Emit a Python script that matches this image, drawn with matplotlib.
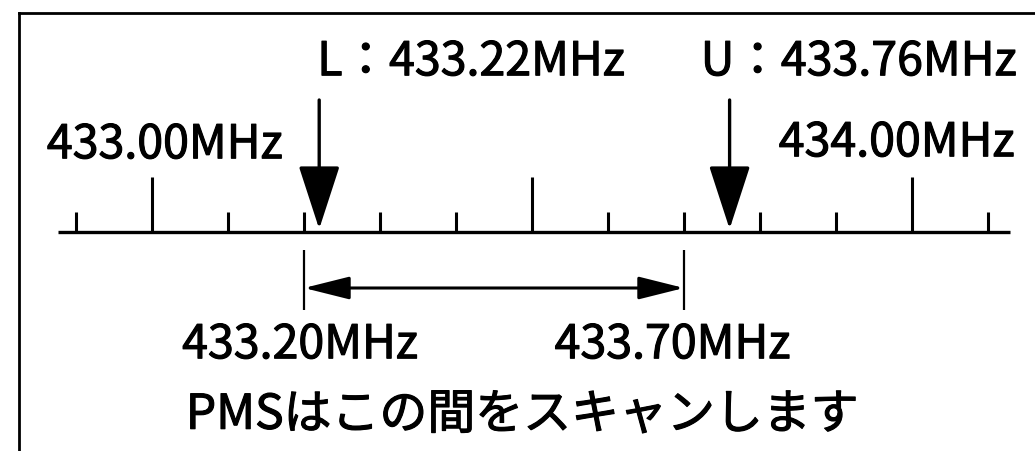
import matplotlib
matplotlib.use("Agg")
import numpy as np
import matplotlib.pyplot as plt
from matplotlib.lines import Line2D
import matplotlib.patheffects as pe

plt.rcParams['font.family'] = ['Noto Sans CJK JP', 'DejaVu Sans']

# frequency scale (MHz)
minor_ticks = [432.9, 433.1, 433.2, 433.3, 433.4, 433.6, 433.7, 433.8, 433.9, 434.1]
major_ticks = [433.0, 433.5, 434.0]
major_labels = ["433.00MHz", "434.00MHz"]
lower_edge = 433.22
upper_edge = 433.76
lower_label = "L：433.22MHz"
upper_label = "U：433.76MHz"
scan_range = [433.20, 433.70]
scan_labels = ["433.20MHz", "433.70MHz"]
caption = "PMSはこの間をスキャンします"

W, H = 1035, 451
fig = plt.figure(figsize=(W / 100, H / 100), dpi=100)
ax = fig.add_axes([0, 0, 1, 1])
# 0.1 MHz = 76 px, 433.00 sits at x=152
ax.set_xlim(433 - 152 / 760, 433 + (W - 152) / 760)
ax.set_ylim(H, 0)
ax.axis('off')

def px(x):
    return 433 + (x - 152) / 760

# slightly heavier than regular, like the printed gothic
thick = [pe.withStroke(linewidth=0.8, foreground='black')]

# frame (top + left only)
fig.add_artist(Line2D([19 / W, 1], [1 - 13 / H, 1 - 13 / H], color='black', lw=2))
fig.add_artist(Line2D([19 / W, 19 / W], [0, 1 - 13 / H], color='black', lw=2))

# baseline
base_y = 232
ax.plot([px(58), px(1010)], [base_y, base_y], color='black', lw=2.4, solid_capstyle='butt')
ax.vlines(minor_ticks, base_y - 20, base_y, color='black', lw=2.2)
ax.vlines(major_ticks, base_y - 55, base_y, color='black', lw=2.2)

fs = 33.5
kw = dict(ha='center', va='center', fontsize=fs, path_effects=thick)
ax.text(433.0 + 0.017, 145, major_labels[0], **kw)
ax.text(434.0 - 0.02, 143, major_labels[1], **kw)
ax.text(433.22 + 0.2, 62, lower_label, **kw)
ax.text(433.76 + 0.17, 62, upper_label, **kw)

# L / U pointer arrows
for f in (lower_edge, upper_edge):
    ax.annotate("", xy=(f, base_y - 3), xytext=(f, 100),
                arrowprops=dict(arrowstyle='-|>,head_length=40,head_width=13',
                                mutation_scale=1, lw=2.4, color='black',
                                shrinkA=0, shrinkB=0))

# scan range
ax.vlines(scan_range, 250, 310, color='black', lw=1.6)
ax.annotate("", xy=(scan_range[1], 288), xytext=(scan_range[0], 288),
            arrowprops=dict(arrowstyle='<|-|>,head_length=28,head_width=7',
                            mutation_scale=1, lw=2.2, color='black',
                            shrinkA=0, shrinkB=0))
ax.text(scan_range[0] - 0.005, 345, scan_labels[0], **kw)
ax.text(scan_range[1] - 0.015, 345, scan_labels[1], **kw)
ax.text(px(522), 415, caption, ha='center', va='center', fontsize=34.5, path_effects=thick)

fig.savefig("out.png", dpi=100)
